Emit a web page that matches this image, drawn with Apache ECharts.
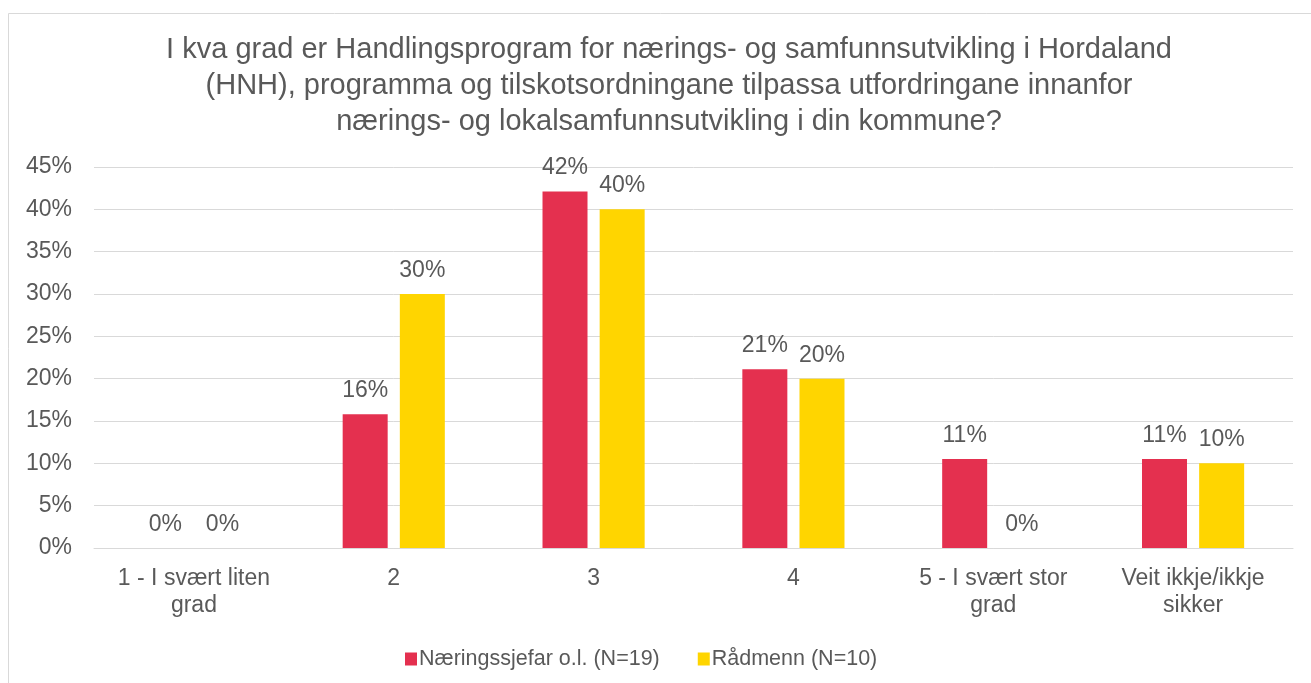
<!DOCTYPE html>
<html>
<head>
<meta charset="utf-8">
<script src="https://cdn.jsdelivr.net/npm/echarts@6/dist/echarts.min.js"></script>
<style>
  html, body { margin: 0; padding: 0; background: #fff; }
  #chart { width: 1311px; height: 683px; }
</style>
</head>
<body>
<div id="chart"></div>
<script>
// svar-kategoriar
var categories = ['1 - I svært liten\ngrad', '2', '3', '4', '5 - I svært stor\ngrad', 'Veit ikkje/ikkje\nsikker'];
var naeringssjefar = [0, 15.8, 42.1, 21.1, 10.5, 10.5];
var radmenn = [0, 30, 40, 20, 0, 10];
var seriesNames = ['Næringssjefar o.l. (N=19)', 'Rådmenn (N=10)'];
var titleText = 'I kva grad er Handlingsprogram for nærings- og samfunnsutvikling i Hordaland\n(HNH), programma og tilskotsordningane tilpassa utfordringane innanfor\nnærings- og lokalsamfunnsutvikling i din kommune?';

var textColor = '#595959';
var font = '"Liberation Sans", Arial, sans-serif';

var chart = echarts.init(document.getElementById('chart'));

var labelOpt = {
    show: true,
    position: 'top',
    distance: 12,
    color: textColor,
    fontFamily: font,
    fontSize: 23,
    formatter: function (p) { return Math.round(p.value) + '%'; }
};

chart.setOption({
    backgroundColor: '#fff',
    graphic: [{
        type: 'rect',
        shape: { x: 8.5, y: 13.5, width: 1310, height: 680 },
        style: { fill: 'none', stroke: '#d9d9d9', lineWidth: 1 },
        silent: true
    }],
    title: {
        text: titleText,
        left: 664,
        textAlign: 'center',
        top: 27,
        textStyle: {
            color: textColor,
            fontFamily: font,
            fontSize: 29,
            fontWeight: 'normal',
            lineHeight: 36
        }
    },
    legend: {
        data: seriesNames,
        top: 643,
        left: 400,
        icon: 'rect',
        itemWidth: 12,
        itemHeight: 13,
        itemGap: 38,
        textStyle: { color: textColor, fontFamily: font, fontSize: 21.5, padding: [0, 0, 0, -3] }
    },
    grid: { left: 94, right: 18, top: 167, bottom: 135 },
    xAxis: {
        type: 'category',
        data: categories,
        axisLine: { show: true, lineStyle: { color: '#d9d9d9', width: 1 } },
        axisTick: { show: false },
        axisLabel: {
            color: textColor,
            fontFamily: font,
            fontSize: 23,
            lineHeight: 27,
            margin: 17,
            interval: 0
        }
    },
    yAxis: {
        type: 'value',
        min: 0,
        max: 45,
        interval: 5,
        axisLine: { show: false },
        axisTick: { show: false },
        splitLine: { lineStyle: { color: '#d9d9d9', width: 1 } },
        axisLabel: {
            color: textColor,
            fontFamily: font,
            fontSize: 23,
            margin: 22,
            formatter: '{value}%'
        }
    },
    series: [{
        name: seriesNames[0],
        type: 'bar',
        data: naeringssjefar,
        itemStyle: { color: '#E4304F' },
        barWidth: 45,
        barGap: '27%',
        label: labelOpt
    }, {
        name: seriesNames[1],
        type: 'bar',
        data: radmenn,
        itemStyle: { color: '#FFD500' },
        barWidth: 45,
        label: labelOpt
    }]
});
</script>
</body>
</html>
